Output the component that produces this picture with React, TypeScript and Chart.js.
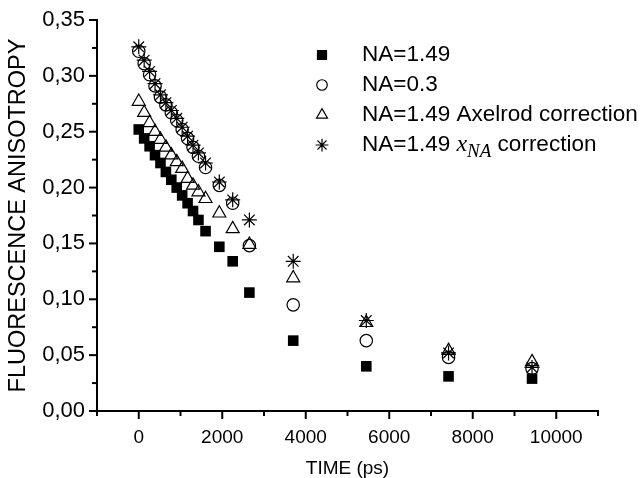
import { useEffect, useRef } from 'react';
import { Chart, registerables } from 'chart.js';
import { drawPoint } from 'chart.js/helpers';

Chart.register(...registerables);

const times = [0, 130, 260, 390, 520, 650, 780, 910, 1040, 1170, 1300, 1430, 1600, 1930, 2250, 2650, 3700, 5450, 7420, 9420];
const na149 = [0.252, 0.244, 0.237, 0.229, 0.222, 0.214, 0.207, 0.200, 0.193, 0.186, 0.179, 0.171, 0.161, 0.147, 0.134, 0.106, 0.063, 0.040, 0.031, 0.029];
const na03 = [0.322, 0.311, 0.301, 0.291, 0.281, 0.274, 0.267, 0.260, 0.252, 0.244, 0.236, 0.228, 0.218, 0.202, 0.186, 0.148, 0.095, 0.063, 0.048, 0.038];
const axelrod = [0.277, 0.267, 0.258, 0.250, 0.243, 0.236, 0.229, 0.223, 0.217, 0.208, 0.202, 0.196, 0.190, 0.177, 0.163, 0.149, 0.119, 0.079, 0.054, 0.044];
const xnaCorr = [0.326, 0.314, 0.304, 0.293, 0.283, 0.276, 0.269, 0.262, 0.254, 0.246, 0.238, 0.231, 0.222, 0.205, 0.189, 0.171, 0.134, 0.081, 0.052, 0.039];

const xTickLabels = ['0', '2000', '4000', '6000', '8000', '10000'];
const yTickLabels = ['0,00', '0,05', '0,10', '0,15', '0,20', '0,25', '0,30', '0,35'];

const SANS = '"Liberation Sans", Arial, sans-serif';
const SERIF = '"Liberation Serif", "DejaVu Serif", serif';

const styles = [
  { pointStyle: 'rect', radius: 7.5, fill: '#000' },
  { pointStyle: 'circle', radius: 6.2, fill: 'rgba(0,0,0,0)' },
  { pointStyle: 'triangle', radius: 7.5, fill: 'rgba(0,0,0,0)' },
  { pointStyle: 'star', radius: 7.5, fill: 'rgba(0,0,0,0)' },
];

const toPoints = (ys: number[]) => times.map((t, i) => ({ x: t, y: ys[i] }));

const ticksAndLegend = {
  id: 'ticksAndLegend',
  afterDraw(chart: any) {
    const ctx = chart.ctx;
    const xs = chart.scales.x;
    const ys = chart.scales.y;
    const area = chart.chartArea;
    ctx.save();
    ctx.strokeStyle = '#000';
    ctx.lineWidth = 2;
    for (let v = -1000; v <= 11000; v += 1000) {
      const px = xs.getPixelForValue(v);
      const major = v % 2000 === 0;
      ctx.beginPath();
      ctx.moveTo(px, area.bottom);
      ctx.lineTo(px, area.bottom + (major ? 8 : 5));
      ctx.stroke();
    }
    for (let i = 0; i <= 14; i++) {
      const v = i * 0.025;
      const py = ys.getPixelForValue(v);
      const major = i % 2 === 0;
      ctx.beginPath();
      ctx.moveTo(area.left, py);
      ctx.lineTo(area.left - (major ? 8 : 5), py);
      ctx.stroke();
    }
    // legend
    const lx = 322;
    const tx = 362;
    const rows = [55, 85, 115, 145];
    const labels = ['NA=1.49', 'NA=0.3', 'NA=1.49 Axelrod correction'];
    ctx.textBaseline = 'middle';
    rows.forEach((ry, i) => {
      const st = styles[i];
      ctx.fillStyle = st.fill;
      ctx.strokeStyle = '#000';
      ctx.lineWidth = 1.2;
      drawPoint(ctx, { pointStyle: st.pointStyle, radius: st.radius * 0.85, borderWidth: 1.2, rotation: 0 } as any, lx, ry);
      ctx.fillStyle = '#000';
      ctx.font = `22.5px ${SANS}`;
      if (i < 3) {
        ctx.fillText(labels[i], tx, ry);
      } else {
        let x = tx;
        const a = 'NA=1.49 ';
        ctx.fillText(a, x, ry);
        x += ctx.measureText(a).width;
        ctx.font = `italic 24px ${SERIF}`;
        ctx.fillText('x', x, ry);
        x += ctx.measureText('x').width;
        ctx.font = `italic 19px ${SERIF}`;
        ctx.fillText('NA', x, ry + 7);
        x += ctx.measureText('NA').width;
        ctx.font = `22.5px ${SANS}`;
        ctx.fillText(' correction', x, ry);
      }
    });
    ctx.restore();
  },
};

export default function App() {
  const ref = useRef<HTMLCanvasElement>(null);
  useEffect(() => {
    document.body.style.margin = '0';
    const names = ['NA=1.49', 'NA=0.3', 'NA=1.49 Axelrod correction', 'NA=1.49 xNA correction'];
    const series = [na149, na03, axelrod, xnaCorr];
    const chart = new Chart(ref.current as HTMLCanvasElement, {
      type: 'scatter',
      data: {
        datasets: series.map((s, i) => ({
          label: names[i],
          data: toPoints(s),
          pointStyle: styles[i].pointStyle as any,
          pointRadius: styles[i].radius,
          pointHoverRadius: styles[i].radius,
          backgroundColor: styles[i].fill,
          borderColor: '#000',
          pointBorderWidth: i === 0 ? 0 : 1.2,
          borderWidth: 1.2,
        })),
      },
      options: {
        animation: false,
        responsive: true,
        maintainAspectRatio: false,
        layout: { padding: { top: 20, right: 46, left: 0, bottom: 0 } },
        plugins: { legend: { display: false }, tooltip: { enabled: false } },
        scales: {
          x: {
            type: 'linear',
            min: -1000,
            max: 11000,
            afterFit: (s: any) => { s.height = 67; },
            afterBuildTicks: (s: any) => {
              s.ticks = [];
              for (let v = -1000; v <= 11000; v += 1000) s.ticks.push({ value: v });
            },
            ticks: {
              autoSkip: false,
              maxRotation: 0,
              padding: 7,
              color: '#000',
              font: { family: SANS, size: 19 },
              callback: (v: any) => {
                const n = Number(v);
                if (n >= 0 && n % 2000 === 0) return xTickLabels[n / 2000];
                return '';
              },
            },
            grid: { drawOnChartArea: false, drawTicks: true, tickLength: 8, color: 'rgba(0,0,0,0)' },
            border: { display: true, color: '#000', width: 2 },
            title: { display: true, text: 'TIME (ps)', color: '#000', font: { family: SANS, size: 19, lineHeight: 1 }, padding: { top: 0, bottom: 0 } },
          },
          y: {
            type: 'linear',
            min: 0,
            max: 0.35,
            afterFit: (s: any) => { s.width = 97; },
            afterBuildTicks: (s: any) => {
              s.ticks = [];
              for (let i = 0; i <= 7; i++) s.ticks.push({ value: i * 0.05 });
            },
            ticks: {
              autoSkip: false,
              padding: 4,
              color: '#000',
              font: { family: SANS, size: 22 },
              callback: (_v: any, idx: number) => yTickLabels[idx],
            },
            grid: { drawOnChartArea: false, drawTicks: true, tickLength: 8, color: 'rgba(0,0,0,0)' },
            border: { display: true, color: '#000', width: 2 },
            title: { display: true, text: 'FLUORESCENCE ANISOTROPY', color: '#000', font: { family: SANS, size: 23.5, lineHeight: 1.2 }, padding: { top: 4, bottom: 0 } },
          },
        },
      },
      plugins: [ticksAndLegend],
    });
    return () => chart.destroy();
  }, []);
  return (
    <div style={{ position: 'absolute', left: 0, top: 0, width: 644, height: 478 }}>
      <canvas ref={ref} />
    </div>
  );
}
